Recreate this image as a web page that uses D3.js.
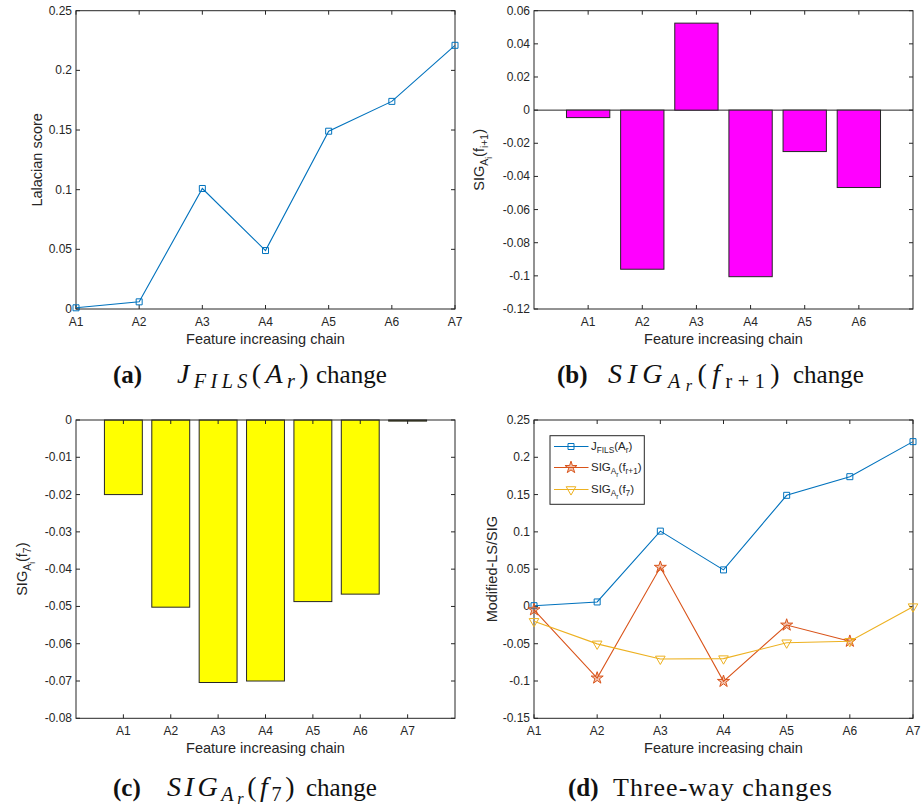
<!DOCTYPE html>
<html>
<head>
<meta charset="utf-8">
<title>Feature increasing chain</title>
<script src="https://d3js.org/d3.v7.min.js"></script>
<style>
  body { margin: 0; background: #fff; }
  svg text { font-family: "Liberation Sans", Arial, sans-serif; fill: #262626; }
  svg text.cap { font-family: "Liberation Serif", "DejaVu Serif", serif; fill: #111; }
</style>
</head>
<body>
<svg id="chart" width="923" height="811"></svg>
<script>
// chain steps and values
var chainLabels = ["A1", "A2", "A3", "A4", "A5", "A6", "A7"];
var jFils = [0.001, 0.006, 0.101, 0.049, 0.149, 0.174, 0.221];
var sigNext = [-0.0045, -0.096, 0.0525, -0.1005, -0.025, -0.0467];
var sigF7 = [-0.020, -0.0502, -0.0704, -0.0700, -0.0487, -0.0467, -0.0003];

var ticksA = [0, 0.05, 0.1, 0.15, 0.2, 0.25];
var ticksB = [-0.12, -0.1, -0.08, -0.06, -0.04, -0.02, 0, 0.02, 0.04, 0.06];
var ticksC = [-0.08, -0.07, -0.06, -0.05, -0.04, -0.03, -0.02, -0.01, 0];
var ticksD = [-0.15, -0.1, -0.05, 0, 0.05, 0.1, 0.15, 0.2, 0.25];

var blue = "#0072BD", orange = "#D95319", gold = "#EDB120";
var svg = d3.select("#chart");
var fmt = function (d) { return String(+d.toFixed(3)); };

// text with sub / sub-sub scripts: parts = [[string, level, italic, bold]]
function rich(sel, parts, size, off) {
  off = off || [0, 0.3, 0.55];
  var scale = [1, 0.72, 0.58];
  var prev = 0;
  parts.forEach(function (p) {
    var lvl = p[1];
    sel.append("tspan")
      .attr("dy", ((off[lvl] - off[prev]) * size).toFixed(2))
      .style("font-size", (size * scale[lvl]) + "px")
      .style("font-style", p[2] ? "italic" : null)
      .style("font-weight", p[3] ? "bold" : null)
      .text(p[0]);
    prev = lvl;
  });
  if (prev) sel.append("tspan").attr("dy", (-off[prev] * size).toFixed(2)).text("\u200b");
  return sel;
}

function frame(g, x0, x1, y0, y1, y, yTicks, xTickPos, xTickLab) {
  yTicks.forEach(function (t) {
    var yy = y(t);
    g.append("line").attr("x1", x0).attr("x2", x0 + 4).attr("y1", yy).attr("y2", yy).attr("stroke", "#262626");
    g.append("line").attr("x1", x1).attr("x2", x1 - 4).attr("y1", yy).attr("y2", yy).attr("stroke", "#262626");
    g.append("text").attr("x", x0 - 4).attr("y", yy + 4).attr("text-anchor", "end")
      .style("font-size", "12px").text(fmt(t));
  });
  xTickPos.forEach(function (xx, i) {
    g.append("line").attr("x1", xx).attr("x2", xx).attr("y1", y1).attr("y2", y1 - 4).attr("stroke", "#262626");
    g.append("line").attr("x1", xx).attr("x2", xx).attr("y1", y0).attr("y2", y0 + 4).attr("stroke", "#262626");
    g.append("text").attr("x", xx).attr("y", y1 + 17).attr("text-anchor", "middle")
      .style("font-size", "12px").text(xTickLab[i]);
  });
  g.append("rect").attr("x", x0).attr("y", y0).attr("width", x1 - x0).attr("height", y1 - y0)
    .attr("fill", "none").attr("stroke", "#262626").attr("stroke-width", 1);
  g.append("text").attr("x", (x0 + x1) / 2).attr("y", y1 + 35).attr("text-anchor", "middle")
    .style("font-size", "14.5px").text("Feature increasing chain");
}

function yLabel(g, x, yc, parts) {
  var t = g.append("text").attr("transform", "translate(" + x + "," + yc + ") rotate(-90)")
    .attr("text-anchor", "middle").style("font-size", "14.5px");
  rich(t, parts, 14.5);
}

function markers(g, type, data, x, y, color) {
  var sym = { square: d3.symbolSquare, star: d3.symbolStar, tri: d3.symbolTriangle }[type];
  var size = { square: 36, star: 45, tri: 40 }[type];
  g.selectAll(null).data(data).enter().append("path")
    .attr("d", d3.symbol().type(sym).size(size))
    .attr("transform", function (d, i) {
      return "translate(" + x(i + 1) + "," + y(d) + ")" + (type === "tri" ? " rotate(180)" : "");
    })
    .attr("fill", type === "star" ? color : "none")
    .attr("fill-opacity", type === "star" ? 0.35 : null)
    .attr("stroke", color).attr("stroke-width", 1);
}

function series(g, data, x, y, color, type) {
  var line = d3.line().x(function (d, i) { return x(i + 1); }).y(function (d) { return y(d); });
  g.append("path").datum(data).attr("d", line).attr("fill", "none")
    .attr("stroke", color).attr("stroke-width", 1.1);
  markers(g, type, data, x, y, color);
}

function bars(g, data, x, y, color) {
  g.selectAll(null).data(data).enter().append("rect")
    .attr("x", function (d, i) { return x(i + 1 - 0.4); })
    .attr("width", x(0.8) - x(0))
    .attr("y", function (d) { return y(Math.max(0, d)); })
    .attr("height", function (d) { return Math.abs(y(d) - y(0)); })
    .attr("fill", color).attr("stroke", "#262626").attr("stroke-width", 1);
}

// spread a text out to a given width (latex math is wider than Times)
function fit(t, w) {
  var node = t.node();
  var n = node.textContent.replace(/\u200b/g, "").length;
  var len = node.getComputedTextLength();
  if (w > len) t.style("letter-spacing", ((w - len) / n).toFixed(2) + "px");
}

function caption(yb, lab, labX, mathX, mathW, mathParts, tail, tailX, mathSize) {
  svg.append("text").attr("class", "cap").attr("x", labX).attr("y", yb)
    .style("font-size", "25px").style("font-weight", "bold").text(lab);
  var m = svg.append("text").attr("class", "cap").attr("x", mathX).attr("y", yb).style("font-size", mathSize + "px");
  rich(m, mathParts, mathSize, [0, 0.18, 0.3]);
  fit(m, mathW);
  if (tail) svg.append("text").attr("class", "cap").attr("x", tailX).attr("y", yb)
    .style("font-size", "25px").text(tail);
}

// (a) Laplacian score
(function () {
  var x0 = 76, x1 = 455, y0 = 10.7, y1 = 309;
  var g = svg.append("g");
  var x = d3.scaleLinear().domain([1, 7]).range([x0, x1]);
  var y = d3.scaleLinear().domain([0, 0.25]).range([y1, y0]);
  frame(g, x0, x1, y0, y1, y, ticksA, chainLabels.map(function (d, i) { return x(i + 1); }), chainLabels);
  series(g, jFils, x, y, blue, "square");
  yLabel(g, 42, (y0 + y1) / 2, [["Lalacian score", 0]]);
})();

// (b) SIG of next feature
(function () {
  var x0 = 534, x1 = 913, y0 = 10.7, y1 = 309;
  var g = svg.append("g");
  var x = d3.scaleLinear().domain([0, sigNext.length + 1]).range([x0, x1]);
  var y = d3.scaleLinear().domain([-0.12, 0.06]).range([y1, y0]);
  g.append("line").attr("x1", x0).attr("x2", x1).attr("y1", y(0)).attr("y2", y(0)).attr("stroke", "#262626");
  bars(g, sigNext, x, y, "#ff00ff");
  var labs = chainLabels.slice(0, sigNext.length);
  frame(g, x0, x1, y0, y1, y, ticksB, labs.map(function (d, i) { return x(i + 1); }), labs);
  yLabel(g, 484, (y0 + y1) / 2, [["SIG", 0], ["A", 1], ["i", 2], ["(f", 0], ["i+1", 1], [")", 0]]);
})();

// (c) SIG of f7
(function () {
  var x0 = 76, x1 = 455, y0 = 420, y1 = 718.3;
  var g = svg.append("g");
  var x = d3.scaleLinear().domain([0, sigF7.length + 1]).range([x0, x1]);
  var y = d3.scaleLinear().domain([-0.08, 0]).range([y1, y0]);
  bars(g, sigF7, x, y, "#ffff00");
  frame(g, x0, x1, y0, y1, y, ticksC, chainLabels.map(function (d, i) { return x(i + 1); }), chainLabels);
  yLabel(g, 27, (y0 + y1) / 2, [["SIG", 0], ["A", 1], ["i", 2], ["(f", 0], ["7", 1], [")", 0]]);
})();

// (d) three-way
(function () {
  var x0 = 534, x1 = 913, y0 = 420, y1 = 718.3;
  var g = svg.append("g");
  var x = d3.scaleLinear().domain([1, 7]).range([x0, x1]);
  var y = d3.scaleLinear().domain([-0.15, 0.25]).range([y1, y0]);
  frame(g, x0, x1, y0, y1, y, ticksD, chainLabels.map(function (d, i) { return x(i + 1); }), chainLabels);
  series(g, jFils, x, y, blue, "square");
  series(g, sigNext, x, y, orange, "star");
  series(g, sigF7, x, y, gold, "tri");
  yLabel(g, 497, (y0 + y1) / 2, [["Modified-LS/SIG", 0]]);

  // legend
  var lg = g.append("g");
  lg.append("rect").attr("x", 550).attr("y", 435.7).attr("width", 94.3).attr("height", 68.6)
    .attr("fill", "#fff").attr("stroke", "#262626").attr("stroke-width", 1);
  var items = [
    { c: blue, t: "square", y: 446.5, parts: [["J", 0], ["FILS", 1], ["(A", 0], ["r", 1], [")", 0]] },
    { c: orange, t: "star", y: 467.5, parts: [["SIG", 0], ["A", 1], ["r", 2], ["(f", 0], ["r+1", 1], [")", 0]] },
    { c: gold, t: "tri", y: 489.5, parts: [["SIG", 0], ["A", 1], ["r", 2], ["(f", 0], ["7", 1], [")", 0]] }
  ];
  items.forEach(function (it) {
    lg.append("line").attr("x1", 554).attr("x2", 588.5).attr("y1", it.y).attr("y2", it.y)
      .attr("stroke", it.c).attr("stroke-width", 1.1);
    var sx = function () { return 571; }, sy = function () { return it.y; };
    markers(lg, it.t, [0], sx, sy, it.c);
    var t = lg.append("text").attr("x", 591).attr("y", it.y + 3).style("font-size", "11.5px");
    rich(t, it.parts, 11.5);
  });
})();

// captions
caption(383, "(a)", 113, 177, 136,
  [["J", 0, true], ["FILS", 1, true], ["(", 0], ["A", 0, true], ["r", 1, true], [")", 0]], "change", 316, 28);
caption(383, "(b)", 557, 608, 177,
  [["SIG", 0, true], ["A", 1, true], ["r", 2, true], ["(", 0], ["f", 0, true], ["r+1", 1], [")", 0]], "change", 793, 28);
caption(796, "(c)", 113, 167, 131,
  [["SIG", 0, true], ["A", 1, true], ["r", 2, true], ["(", 0], ["f", 0, true], ["7", 1], [")", 0]], "change", 306, 28);
caption(796, "(d)", 568, 613, 220, [["Three-way changes", 0]], null, 0, 26);
</script>
</body>
</html>
